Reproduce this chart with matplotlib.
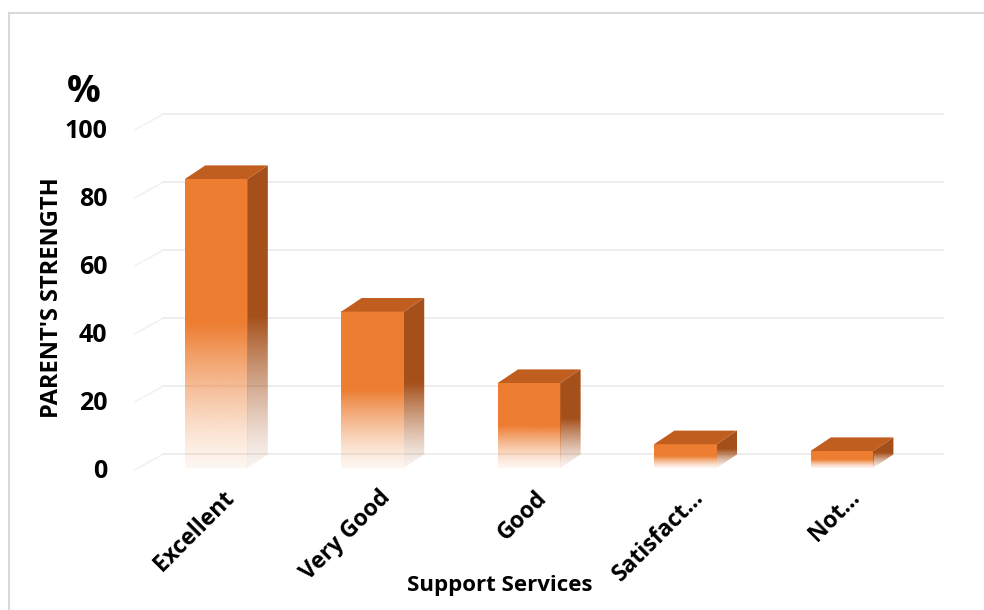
import numpy as np
import matplotlib.pyplot as plt
import matplotlib.colors as mcolors
import matplotlib.transforms as mtransforms
from matplotlib.patches import Polygon
from matplotlib.lines import Line2D

# data
categories = ["Excellent", "Very Good", "Good", "Satisfact...", "Not..."]
values = [85, 46, 25, 7, 5]
yticks = [0, 20, 40, 60, 80, 100]

plt.rcParams['font.family'] = ['Open Sans', 'DejaVu Sans']

front_color = '#ED7D31'
top_color = '#BF5E1E'
side_color = '#A5501A'
grid_color = '#EDEDED'


def fade(color, n=200):
    # solid in the upper half, fading to nearly white at the bottom
    rgb = mcolors.to_rgb(color)
    img = np.ones((n, 1, 4))
    img[:, 0, :3] = rgb
    t = np.linspace(0, 1, n)
    img[:, 0, 3] = np.clip(0.07 + 0.93 * (t / 0.5) ** 1.3, 0, 1)
    return img


fig = plt.figure(figsize=(9.84, 6.1), dpi=100)
ax = fig.add_axes([138 / 984, 1 - 468 / 610, (920 - 138) / 984, 340 / 610])

w = 0.4       # bar width (category units)
dx, dy = 0.13, 4.0   # depth offset of the fake 3D

# back wall gridlines + faint side wall lines
for v in yticks:
    ax.plot([-0.34, 4.65], [v + dy, v + dy], color=grid_color, lw=1.4,
            zorder=0, clip_on=False)
    ax.plot([-0.52, -0.34], [v - 0.5, v + dy], color='#F2F2F2', lw=1.2,
            zorder=0, clip_on=False)

for i, v in enumerate(values):
    x0, x1 = i - w / 2, i + w / 2
    # front face
    ax.imshow(fade(front_color), extent=[x0, x1, 0, v], origin='lower',
              aspect='auto', interpolation='bilinear', zorder=3)
    # side face
    side = Polygon([(x1, 0), (x1 + dx, dy), (x1 + dx, v + dy), (x1, v)],
                   closed=True, facecolor='none', edgecolor='none',
                   transform=ax.transData)
    ax.add_patch(side)
    im = ax.imshow(fade(side_color), extent=[x1, x1 + dx, 0, v + dy],
                   origin='lower', aspect='auto', interpolation='bilinear',
                   zorder=3)
    im.set_clip_path(side)
    # top face
    ax.add_patch(Polygon([(x0, v), (x1, v), (x1 + dx, v + dy), (x0 + dx, v + dy)],
                         closed=True, facecolor=top_color, edgecolor='none',
                         zorder=4, clip_on=False))

ax.set_xlim(-0.5, 4.5)
ax.set_ylim(0, 100)

for s in ax.spines.values():
    s.set_visible(False)

ax.set_yticks(yticks)
ax.set_yticklabels([str(t) for t in yticks], fontsize=18, fontweight='bold')
ax.tick_params(axis='y', length=0, pad=22)

ax.set_xticks(range(len(categories)))
ax.set_xticklabels(categories, fontsize=16.5, fontweight='bold', rotation=45,
                   ha='right', va='top', rotation_mode='anchor')
ax.tick_params(axis='x', length=0, pad=13)
offset = mtransforms.ScaledTranslation(6 / 100, 0, fig.dpi_scale_trans)
for lab in ax.get_xticklabels():
    lab.set_transform(lab.get_transform() + offset)

fig.text(52 / 984, 1 - 298 / 610, "PARENT'S STRENGTH", rotation=90,
         ha='center', va='center', fontsize=17, fontweight='bold')
fig.text(500 / 984, 1 - 585 / 610, "Support Services", ha='center',
         va='center', fontsize=16, fontweight='bold')
fig.text(84 / 984, 1 - 92 / 610, "%", ha='center', va='center',
         fontsize=27, fontweight='bold')

# chart border
fig.add_artist(Line2D([9 / 984, 1], [1 - 13 / 610, 1 - 13 / 610],
                      color='#D9D9D9', lw=1.5, transform=fig.transFigure))
fig.add_artist(Line2D([9 / 984, 9 / 984], [0, 1 - 13 / 610],
                      color='#D9D9D9', lw=1.5, transform=fig.transFigure))

fig.savefig('out.png', dpi=100)
